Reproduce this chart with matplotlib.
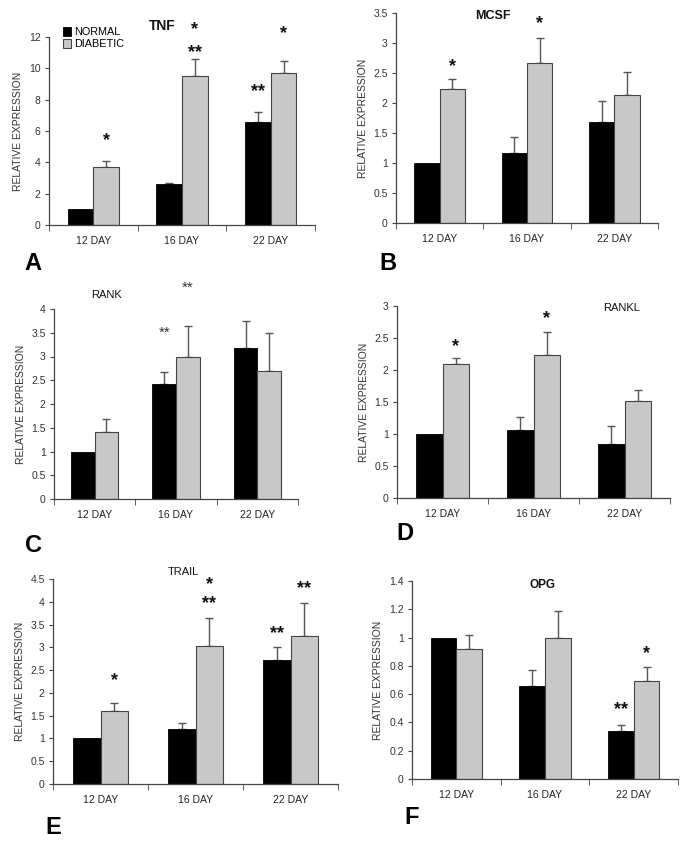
import matplotlib
matplotlib.use('Agg')
import matplotlib.pyplot as plt
from matplotlib.ticker import FormatStrFormatter

plt.rcParams['font.family'] = ['Liberation Sans', 'DejaVu Sans']

days = ['12 DAY', '16 DAY', '22 DAY']

# normal means, normal error-bar tops, diabetic means, diabetic error-bar tops
tnf_normal = [1.0, 2.6, 6.55]
tnf_normal_top = [1.0, 2.65, 7.2]
tnf_diab = [3.7, 9.5, 9.7]
tnf_diab_top = [4.1, 10.6, 10.45]

mcsf_normal = [1.0, 1.17, 1.68]
mcsf_normal_top = [1.0, 1.43, 2.03]
mcsf_diab = [2.23, 2.66, 2.13]
mcsf_diab_top = [2.4, 3.08, 2.52]

rank_normal = [1.0, 2.42, 3.18]
rank_normal_top = [1.0, 2.67, 3.75]
rank_diab = [1.42, 3.0, 2.7]
rank_diab_top = [1.69, 3.65, 3.5]

rankl_normal = [1.0, 1.07, 0.85]
rankl_normal_top = [1.0, 1.26, 1.12]
rankl_diab = [2.09, 2.24, 1.52]
rankl_diab_top = [2.18, 2.6, 1.68]

trail_normal = [1.0, 1.2, 2.72]
trail_normal_top = [1.0, 1.35, 3.0]
trail_diab = [1.6, 3.02, 3.25]
trail_diab_top = [1.78, 3.65, 3.98]

opg_normal = [1.0, 0.66, 0.34]
opg_normal_top = [1.0, 0.77, 0.38]
opg_diab = [0.92, 1.0, 0.69]
opg_diab_top = [1.02, 1.19, 0.79]

# significance marks: (group, series 0=normal 1=diabetic, y, text)
tnf_marks = [(0, 1, 5.4, '*'), (1, 1, 11.0, '**'), (1, 1, 12.5, '*'),
             (2, 0, 8.5, '**'), (2, 1, 12.2, '*')]
mcsf_marks = [(0, 1, 2.6, '*'), (1, 1, 3.33, '*')]
rank_marks = [(1, 0, 3.5, '**'), (1, 1, 4.44, '**')]
rankl_marks = [(0, 1, 2.36, '*'), (1, 1, 2.8, '*')]
trail_marks = [(0, 1, 2.26, '*'), (1, 1, 3.97, '**'), (1, 1, 4.37, '*'),
               (2, 0, 3.3, '**'), (2, 1, 4.3, '**')]
opg_marks = [(2, 0, 0.49, '**'), (2, 1, 0.89, '*')]

W, H = 685, 842
fig = plt.figure(figsize=(W / 100, H / 100), dpi=100)


def make_ax(l, r, b, t):
    return fig.add_axes([l / W, 1 - b / H, (r - l) / W, (b - t) / H])


def err_bars(ax, xs, vals, tops):
    for xx, v, t in zip(xs, vals, tops):
        if t - v > 0:
            ax.errorbar([xx], [v], yerr=[[0], [t - v]], fmt='none',
                        ecolor='#555555', elinewidth=1.0, capsize=3,
                        capthick=1.0, zorder=1)


def panel(box, ymax, ystep, nm, nt, dm, dt, marks, title, tpos, tbold, tsize,
          letter, lpos, markbold=True):
    ax = make_ax(*box)
    w = 0.29
    x = range(3)
    xn = [i - w / 2 for i in x]
    xd = [i + w / 2 for i in x]
    ax.bar(xn, nm, w, color='black', edgecolor='black', linewidth=0.6,
           label='NORMAL', zorder=2)
    ax.bar(xd, dm, w, color='#c8c8c8', edgecolor='#444444', linewidth=0.8,
           label='DIABETIC', zorder=2)
    err_bars(ax, xn, nm, nt)
    err_bars(ax, xd, dm, dt)
    for g, s, y, txt in marks:
        xx = xn[g] if s == 0 else xd[g]
        ax.text(xx, y, txt, ha='center', va='center',
                fontsize=13 if markbold else 11,
                fontweight='bold' if markbold else 'normal',
                color='#111111' if markbold else '#333333', clip_on=False)
    ax.set_xlim(-0.5, 2.5)
    ax.set_ylim(0, ymax)
    yt = [i * ystep for i in range(int(round(ymax / ystep)) + 1)]
    ax.set_yticks(yt)
    ax.yaxis.set_major_formatter(FormatStrFormatter('%g'))
    ax.set_xticks(list(x))
    ax.set_xticklabels(days)
    ax.set_xticks([-0.5, 0.5, 1.5, 2.5], minor=True)
    ax.tick_params(axis='x', which='major', length=0, pad=8,
                   labelsize=7.5, labelcolor='#222222')
    ax.tick_params(axis='x', which='minor', length=4, direction='out',
                   color='#444444')
    ax.tick_params(axis='y', length=3, direction='out', color='#444444',
                   labelsize=7.5, labelcolor='#333333', pad=3)
    for sp in ('top', 'right'):
        ax.spines[sp].set_visible(False)
    for sp in ('left', 'bottom'):
        ax.spines[sp].set_color('#444444')
        ax.spines[sp].set_linewidth(0.9)
    ax.set_ylabel('RELATIVE EXPRESSION', fontsize=7.5, color='#333333',
                  labelpad=4)
    fig.text(tpos[0] / W, 1 - tpos[1] / H, title, ha='center', va='center',
             fontsize=tsize, fontweight='bold' if tbold else 'normal',
             color='#111111')
    fig.text(lpos[0] / W, 1 - lpos[1] / H, letter, ha='center', va='center',
             fontsize=17, fontweight='bold')
    return ax


axA = panel((49, 315, 225, 37), 12, 2, tnf_normal, tnf_normal_top, tnf_diab,
            tnf_diab_top, tnf_marks, 'TNF', (162, 26), True, 10, 'A', (33, 263))
axA.legend(loc='upper left', bbox_to_anchor=(0.035, 1.075), frameon=False,
           fontsize=7.8, handlelength=0.8, handleheight=0.8, handletextpad=0.3,
           labelspacing=0.2, borderaxespad=0)

panel((396, 658, 223, 13), 3.5, 0.5, mcsf_normal, mcsf_normal_top, mcsf_diab,
      mcsf_diab_top, mcsf_marks, 'MCSF', (493, 16), True, 9, 'B', (388, 263))

panel((54, 298, 499, 309), 4, 0.5, rank_normal, rank_normal_top, rank_diab,
      rank_diab_top, rank_marks, 'RANK', (107, 295), False, 8, 'C', (33, 545),
      markbold=False)

panel((397, 670, 498, 306), 3, 0.5, rankl_normal, rankl_normal_top, rankl_diab,
      rankl_diab_top, rankl_marks, 'RANKL', (622, 308), False, 8, 'D', (405, 533))

panel((53, 338, 784, 579), 4.5, 0.5, trail_normal, trail_normal_top, trail_diab,
      trail_diab_top, trail_marks, 'TRAIL', (183, 572), False, 8, 'E', (53, 827))

panel((412, 678, 779, 581), 1.4, 0.2, opg_normal, opg_normal_top, opg_diab,
      opg_diab_top, opg_marks, 'OPG', (543, 585), True, 8.5, 'F', (412, 818))

fig.savefig('out.png', dpi=100)
